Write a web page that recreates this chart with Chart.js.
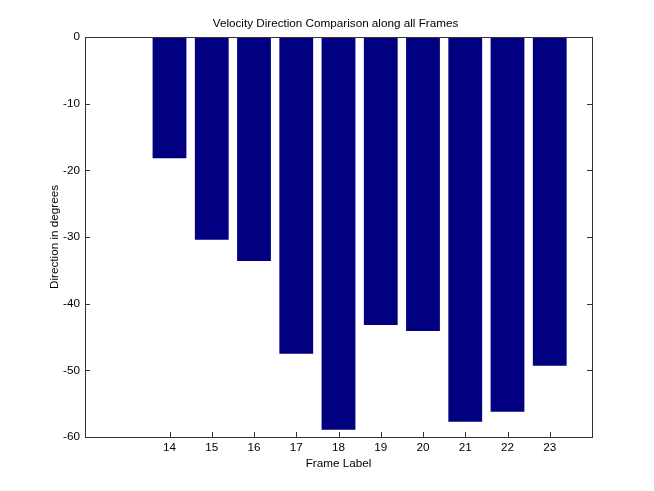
<!DOCTYPE html>
<html>
<head>
<meta charset="utf-8">
<script src="https://cdn.jsdelivr.net/npm/chart.js@4/dist/chart.umd.min.js"></script>
<style>
  html, body { margin: 0; padding: 0; background: #fff; }
  #wrap { width: 654px; height: 491px; }
</style>
</head>
<body>
<div id="wrap"><canvas id="chart" width="654" height="491"></canvas></div>
<script>
// Data
const frames = [14, 15, 16, 17, 18, 19, 20, 21, 22, 23];
const directions = [-18.2, -30.4, -33.6, -47.5, -58.9, -43.2, -44.1, -57.7, -56.2, -49.3];
const yTicks = [0, -10, -20, -30, -40, -50, -60];
const chartTitle = 'Velocity Direction Comparison along all Frames';

const axisColor = '#333333';
const fontFamily = 'Liberation Sans, Arial, sans-serif';
const fontSize = 11.7;

// Box around the plot with inward tick marks (MATLAB style), title centred over the axes
const boxPlugin = {
    id: 'box',
    afterDatasetsDraw(chart) {
        const { ctx, chartArea: a, scales } = chart;
        ctx.save();
        ctx.strokeStyle = axisColor;
        ctx.lineWidth = 1;
        ctx.strokeRect(Math.round(a.left) + 0.5, Math.round(a.top) + 0.5,
            Math.round(a.right - a.left), Math.round(a.bottom - a.top));
        ctx.beginPath();
        frames.forEach(f => {
            const x = Math.round(scales.x.getPixelForValue(f)) + 0.5;
            ctx.moveTo(x, a.bottom);
            ctx.lineTo(x, a.bottom - 5);
        });
        yTicks.forEach(v => {
            const y = Math.round(scales.y.getPixelForValue(v)) + 0.5;
            ctx.moveTo(a.left, y);
            ctx.lineTo(a.left + 5, y);
            ctx.moveTo(a.right, y);
            ctx.lineTo(a.right - 5, y);
        });
        ctx.stroke();

        ctx.fillStyle = '#000';
        ctx.font = `${fontSize}px ${fontFamily}`;
        ctx.textAlign = 'center';
        ctx.textBaseline = 'middle';
        ctx.fillText(chartTitle, (a.left + a.right) / 2 - 3, a.top - 13);
        ctx.restore();
    }
};

new Chart(document.getElementById('chart').getContext('2d'), {
    type: 'bar',
    data: {
        datasets: [{
            data: frames.map((f, i) => ({ x: f, y: directions[i] })),
            backgroundColor: '#000080',
            borderWidth: 0,
            barPercentage: 0.8,
            categoryPercentage: 1.0
        }]
    },
    plugins: [boxPlugin],
    options: {
        responsive: false,
        animation: false,
        layout: { padding: { left: 48, right: 62, top: 37, bottom: 20 } },
        plugins: {
            legend: { display: false },
            tooltip: { enabled: false },
            title: { display: false }
        },
        scales: {
            x: {
                type: 'linear',
                min: 12,
                max: 24,
                offset: false,
                afterBuildTicks: s => { s.ticks = frames.map(v => ({ value: v })); },
                afterFit: s => { s.height = 34; },
                grid: { drawOnChartArea: false, drawTicks: false },
                border: { display: false },
                ticks: {
                    color: '#000',
                    padding: 4,
                    font: { family: fontFamily, size: fontSize }
                },
                title: {
                    display: true,
                    text: 'Frame Label',
                    color: '#000',
                    padding: { top: 0, bottom: 0 },
                    font: { family: fontFamily, size: fontSize }
                }
            },
            y: {
                min: -60,
                max: 0,
                afterBuildTicks: s => { s.ticks = yTicks.map(v => ({ value: v })); },
                afterFit: s => { s.width = 37; },
                grid: { drawOnChartArea: false, drawTicks: false },
                border: { display: false },
                ticks: {
                    color: '#000',
                    padding: 5,
                    font: { family: fontFamily, size: fontSize }
                },
                title: {
                    display: true,
                    text: 'Direction in degrees',
                    color: '#000',
                    padding: { top: 0, bottom: 0 },
                    font: { family: fontFamily, size: fontSize }
                }
            }
        }
    }
});
</script>
</body>
</html>
